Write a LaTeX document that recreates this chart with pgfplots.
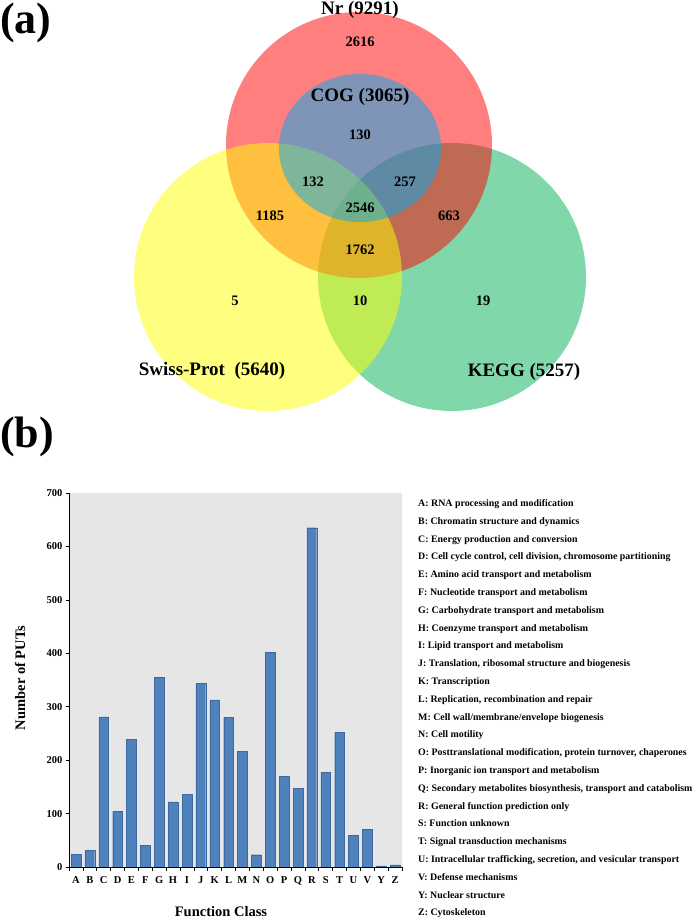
\documentclass[border=0pt]{standalone}
\usepackage{pgfplots}
\pgfplotsset{compat=1.18}
\usepackage{pgfplotstable}
\usepackage{fontspec}
\setmainfont{Liberation Serif}
\definecolor{vred}{RGB}{255,0,0}
\definecolor{vyel}{RGB}{255,255,0}
\definecolor{vgrn}{RGB}{0,175,85}
\definecolor{vblu}{RGB}{0,172,242}
\definecolor{barblue}{RGB}{79,129,189}
\definecolor{baredge}{RGB}{60,105,160}
\definecolor{bgray}{RGB}{230,230,230}
\newcommand\fbig{\fontsize{19bp}{22bp}\selectfont\bfseries}
\newcommand\fnum{\fontsize{14.5bp}{17bp}\selectfont\bfseries}
\newcommand\fpanel{\fontsize{44bp}{48bp}\selectfont\bfseries}
\newcommand\flab{\fontsize{14.5bp}{17bp}\selectfont\bfseries}
\newcommand\ftick{\fontsize{10.5bp}{12bp}\selectfont\bfseries}
\newcommand\fleg{\fontsize{9.9bp}{11bp}\selectfont\bfseries}

% Venn circles: centre x, centre y (pixels, y downward)
\pgfplotstableread{
x y
452 277
}\vgreen
\pgfplotstableread{
x y
359 145
}\vredt
\pgfplotstableread{
x y
268 277
}\vyellow
\pgfplotstableread{
x y
360 148
}\vcog

\pgfplotstableread{
idx cls val
0 A 24
1 B 31
2 C 281
3 D 104
4 E 239
5 F 41
6 G 355
7 H 122
8 I 136
9 J 344
10 K 313
11 L 280
12 M 216
13 N 23
14 O 402
15 P 170
16 Q 147
17 R 635
18 S 177
19 T 252
20 U 59
21 V 70
22 Y 2
23 Z 4
}\cogdata

\begin{document}
\begin{tikzpicture}
\path[use as bounding box] (0,0) rectangle (693bp,920bp);
\begin{axis}[at={(0,0)}, anchor=south west, width=693bp, height=920bp,
  scale only axis, xmin=0, xmax=693, ymin=0, ymax=920, y dir=reverse,
  hide axis, clip=false]
\addplot[only marks, mark=*, mark size=134.5pt, draw=none, fill=vgrn, fill opacity=0.5, mark options={draw opacity=0, line width=0pt}] table[x=x,y=y]{\vgreen};
\addplot[only marks, mark=*, mark size=133.5pt, draw=none, fill=vred, fill opacity=0.5, mark options={draw opacity=0, line width=0pt}] table[x=x,y=y]{\vredt};
\addplot[only marks, mark=*, mark size=134.5pt, draw=none, fill=vyel, fill opacity=0.5, mark options={draw opacity=0, line width=0pt}] table[x=x,y=y]{\vyellow};
\addplot[only marks, mark=*, mark size=74.3pt, draw=none, fill=vblu, fill opacity=0.5, mark options={draw opacity=0, line width=0pt, xscale=1.095}] table[x=x,y=y]{\vcog};
\end{axis}

\begin{axis}[at={(69bp,53bp)}, anchor=south west, width=333bp, height=374bp,
  scale only axis, xmin=-0.5, xmax=23.5, ymin=0, ymax=700,
  axis x line*=bottom, axis y line*=left,
  axis line style={black, line width=0.8bp, -},
  axis background/.style={fill=bgray},
  ytick={0,100,...,700},
  xtick={0,...,23},
  xticklabels={A,B,C,D,E,F,G,H,I,J,K,L,M,N,O,P,Q,R,S,T,U,V,Y,Z},
  minor xtick={-0.5,0.5,...,23.5},
  major x tick style={draw=none},
  minor x tick style={draw=black, line width=0.6bp},
  y tick style={draw=black, line width=0.6bp},
  tick align=outside, major tick length=3bp, minor tick length=4bp,
  ticklabel style={font=\ftick},
  xticklabel style={yshift=-3bp},
  /pgf/number format/assume math mode=true,
  ybar, bar width=0.7]
\addplot[fill=barblue, draw=baredge, line width=0.3bp] table[x=idx,y=val]{\cogdata};
\end{axis}

\begin{scope}[shift={(0bp,920bp)}, x=1bp, y=-1bp]
\node[anchor=base west, font=\fpanel, inner sep=0] at (0,34) {(a)};
\node[anchor=base west, font=\fpanel, inner sep=0] at (0,448) {(b)};
\node[anchor=base, font=\fbig, inner sep=0] at (360,14.5) {Nr (9291)};
\node[anchor=base, font=\fbig, inner sep=0] at (360,101.5) {COG (3065)};
\node[anchor=base, font=\fbig, inner sep=0] at (212,376) {Swiss-Prot\ \ (5640)};
\node[anchor=base, font=\fbig, inner sep=0] at (524,377) {KEGG (5257)};
\node[anchor=base, font=\fnum, inner sep=0] at (360,47) {2616};
\node[anchor=base, font=\fnum, inner sep=0] at (360,140) {130};
\node[anchor=base, font=\fnum, inner sep=0] at (313,187) {132};
\node[anchor=base, font=\fnum, inner sep=0] at (405,187) {257};
\node[anchor=base, font=\fnum, inner sep=0] at (360,213) {2546};
\node[anchor=base, font=\fnum, inner sep=0] at (270,220.5) {1185};
\node[anchor=base, font=\fnum, inner sep=0] at (449,220.5) {663};
\node[anchor=base, font=\fnum, inner sep=0] at (360,255) {1762};
\node[anchor=base, font=\fnum, inner sep=0] at (235,306) {5};
\node[anchor=base, font=\fnum, inner sep=0] at (360,306) {10};
\node[anchor=base, font=\fnum, inner sep=0] at (483,306) {19};
\node[anchor=center, font=\flab, inner sep=0, rotate=90] at (20,678) {Number of PUTs};
\node[anchor=base, font=\flab, inner sep=0] at (221,917) {Function Class};
\foreach \t [count=\i from 0] in {
  {A: RNA processing and modification},
  {B: Chromatin structure and dynamics},
  {C: Energy production and conversion},
  {D: Cell cycle control, cell division, chromosome partitioning},
  {E: Amino acid transport and metabolism},
  {F: Nucleotide transport and metabolism},
  {G: Carbohydrate transport and metabolism},
  {H: Coenzyme transport and metabolism},
  {I: Lipid transport and metabolism},
  {J: Translation, ribosomal structure and biogenesis},
  {K: Transcription},
  {L: Replication, recombination and repair},
  {M: Cell wall/membrane/envelope biogenesis},
  {N: Cell motility},
  {O: Posttranslational modification, protein turnover, chaperones},
  {P: Inorganic ion transport and metabolism},
  {Q: Secondary metabolites biosynthesis, transport and catabolism},
  {R: General function prediction only},
  {S: Function unknown},
  {T: Signal transduction mechanisms},
  {U: Intracellular trafficking, secretion, and vesicular transport},
  {V: Defense mechanisms},
  {Y: Nuclear structure},
  {Z: Cytoskeleton}}
  \node[anchor=base west, font=\fleg, inner sep=0] at (418,{506.5+\i*17.8}) {\t};
\end{scope}
\end{tikzpicture}
\end{document}
